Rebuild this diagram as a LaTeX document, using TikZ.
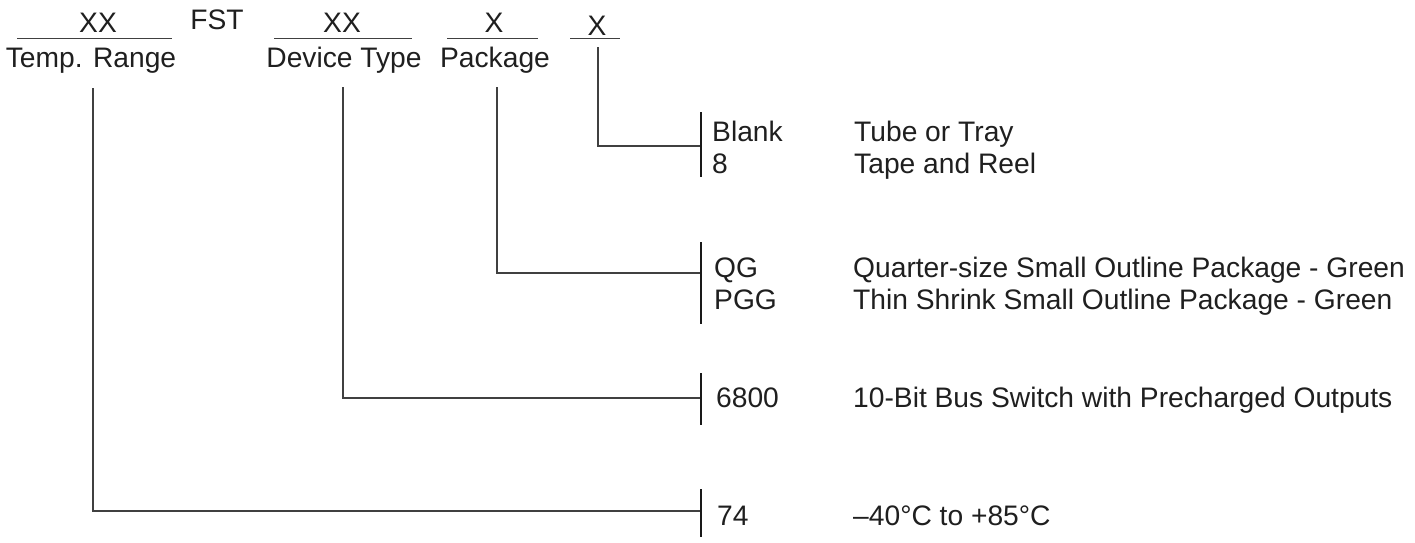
\documentclass[tikz,border=0pt]{standalone}
\usepackage{fontspec}
\setmainfont{Liberation Sans}
\begin{document}
\begin{tikzpicture}[x=1pt,y=-1pt,
  txt/.style={inner sep=0pt,anchor=base west,text=black!88,font=\fontsize{28.2}{32}\selectfont},
  ctr/.style={txt,anchor=base},
  ln/.style={draw=black!75,line width=1.3pt},
  brk/.style={draw=black!90,line width=1.3pt}]
\useasboundingbox (0,0) rectangle (1415,542);
% top row
\node[ctr] (xx1) at (98,32) {XX};
\node[ctr] (fst) at (217,29) {FST};
\node[ctr] (xx2) at (342,32) {XX};
\node[ctr] (x3) at (494,32) {X};
\node[ctr] (x4) at (597,35) {X};
\coordinate (u1a) at (17,38.5); \coordinate (u1b) at (172,38.5);
\coordinate (u2a) at (274,38.5); \coordinate (u2b) at (412,38.5);
\coordinate (u3a) at (447,38.5); \coordinate (u3b) at (538,38.5);
\coordinate (u4a) at (570,38.5); \coordinate (u4b) at (620,38.5);
\draw[ln] (u1a) -- (u1b);
\draw[ln] (u2a) -- (u2b);
\draw[ln] (u3a) -- (u3b);
\draw[ln] (u4a) -- (u4b);
\node[ctr] (tr) at (91,67) {Temp. Range};
\node[ctr] (dt) at (344,67) {Device Type};
\node[ctr] (pk) at (495,67) {Package};
% leader tops
\coordinate (la) at (93,88);
\coordinate (lb) at (343,87);
\coordinate (lc) at (497,87);
\coordinate (ld) at (598,47);
% bracket joints
\coordinate (ja) at (701,511);
\coordinate (jb) at (701,398);
\coordinate (jc) at (701,273);
\coordinate (jd) at (701,146);
\draw[ln] (la) |- (ja);
\draw[ln] (lb) |- (jb);
\draw[ln] (lc) |- (jc);
\draw[ln] (ld) |- (jd);
% brackets
\coordinate (bd1) at (701,112); \coordinate (bd2) at (701,177);
\coordinate (bc1) at (701,242); \coordinate (bc2) at (701,324);
\coordinate (bb1) at (701,373); \coordinate (bb2) at (701,425);
\coordinate (ba1) at (701,489); \coordinate (ba2) at (701,537);
\draw[brk] (bd1) -- (bd2);
\draw[brk] (bc1) -- (bc2);
\draw[brk] (bb1) -- (bb2);
\draw[brk] (ba1) -- (ba2);
% codes and descriptions
\node[txt] (c1) at (712,141) {Blank};
\node[txt] (d1) at (854,141) {Tube or Tray};
\node[txt] (c2) at (712,173) {8};
\node[txt] (d2) at (854,173) {Tape and Reel};
\node[txt] (c3) at (714,277) {QG};
\node[txt] (d3) at (853,277) {Quarter-size Small Outline Package - Green};
\node[txt] (c4) at (714,309) {PGG};
\node[txt] (d4) at (853,309) {Thin Shrink Small Outline Package - Green};
\node[txt] (c5) at (716,407) {6800};
\node[txt] (d5) at (853,407) {10-Bit Bus Switch with Precharged Outputs};
\node[txt] (c6) at (717,525) {74};
\node[txt] (d6) at (853,525) {–40°C to +85°C};
\end{tikzpicture}
\end{document}
